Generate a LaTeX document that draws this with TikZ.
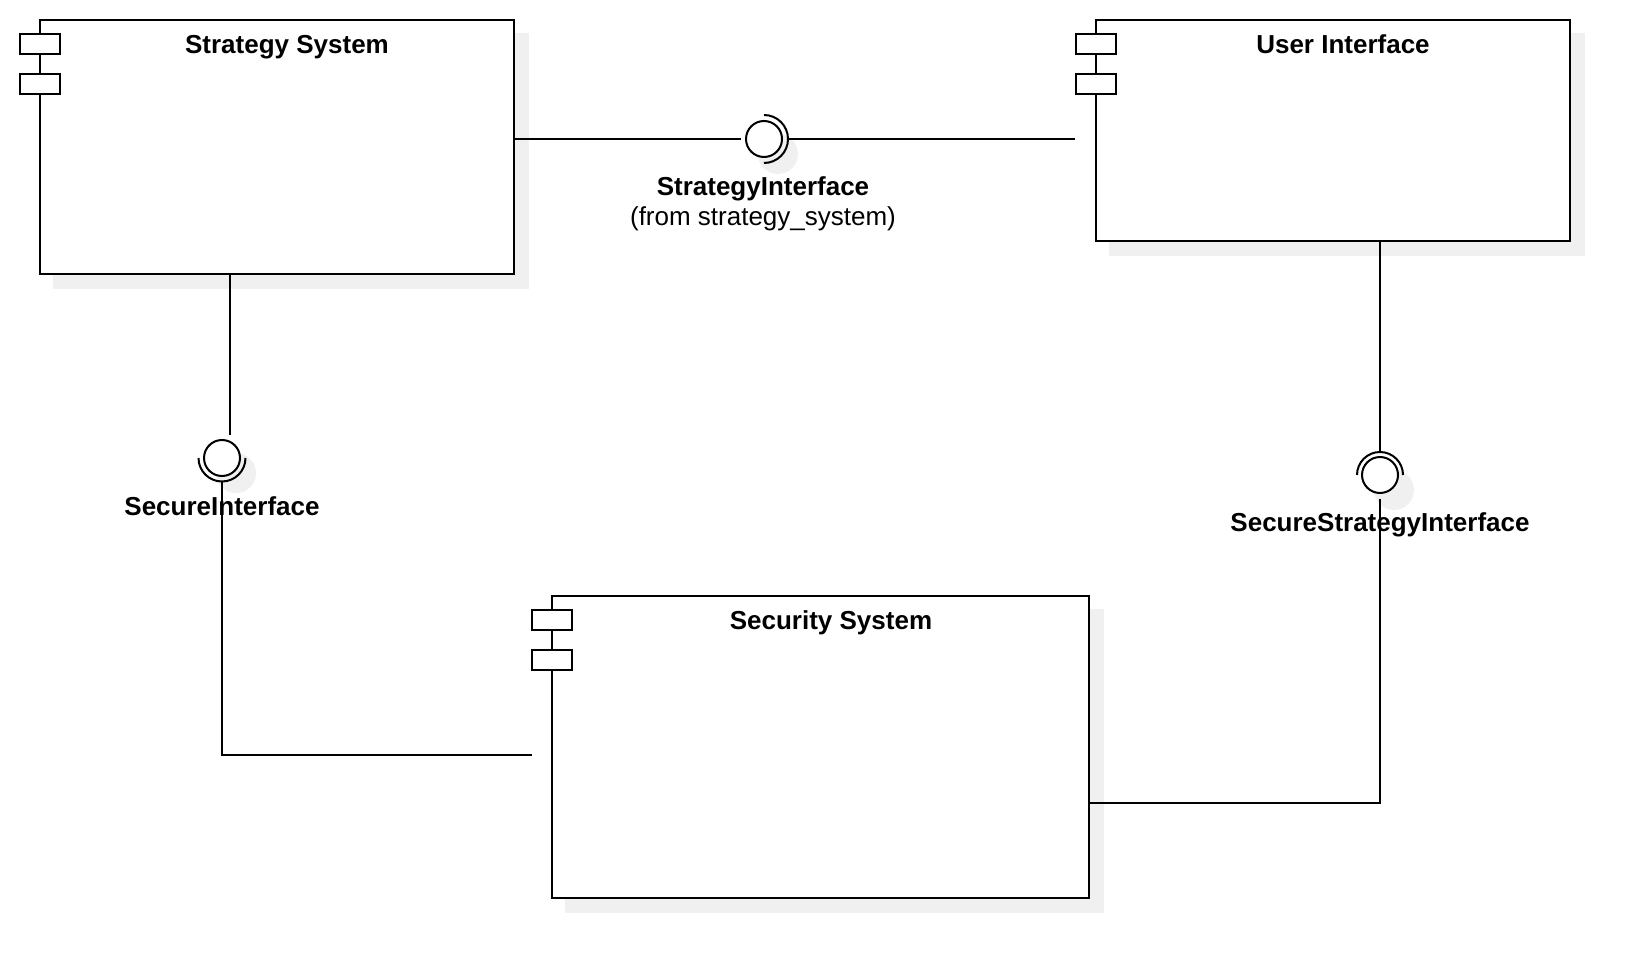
\documentclass[tikz,border=0pt]{standalone}
\usepackage{fontspec}
\setmainfont{Liberation Sans}
\pgfdeclarelayer{bg}
\pgfsetlayers{bg,main}
\definecolor{shadowgray}{HTML}{F0F0F0}
\begin{document}
\begin{tikzpicture}[x=0.5pt,y=-0.5pt,line width=1pt,
  txt/.style={inner sep=0pt,font=\fontsize{13}{15.6}\selectfont},
  bold/.style={txt,font=\fontsize{13}{15.6}\selectfont\bfseries},
  comp/.style={draw=black,fill=white,inner sep=0pt},
  port/.style={draw=black,fill=white,inner sep=0pt,minimum width=20pt,minimum height=10pt},
  ball/.style={circle,draw=black,fill=white,inner sep=0pt,minimum size=18pt}]
\useasboundingbox (0,0) rectangle (1652,978);

% component boxes
\node[comp,minimum width=237pt,minimum height=127pt] (strat) at (277,147) {};
\node[comp,minimum width=237pt,minimum height=110.5pt] (ui) at (1333,130.5) {};
\node[comp,minimum width=268.5pt,minimum height=151pt] (sec) at (820.5,747) {};

% component icons on the left edges
\node[port] (strat-p1) at (40,44) {};
\node[port] (strat-p2) at (40,84) {};
\node[port] (ui-p1) at (1096,44) {};
\node[port] (ui-p2) at (1096,84) {};
\node[port] (sec-p1) at (552,620) {};
\node[port] (sec-p2) at (552,660) {};

% titles
\node[bold,anchor=base] (strat-title) at (287,53.5) {Strategy System};
\node[bold,anchor=base] (ui-title) at (1343,53.5) {User Interface};
\node[bold,anchor=base] (sec-title) at (831,629.5) {Security System};

% provided interfaces (balls)
\node[ball] (si1) at (764,139) {};
\node[ball] (si2) at (222,458) {};
\node[ball] (si3) at (1380,475) {};

% required interfaces (sockets)
\draw ([shift={(0,-24)}]si1.center) arc[start angle=-90,end angle=90,radius=24];
\draw ([shift={(-23.5,0)}]si2.center) arc[start angle=180,end angle=0,radius=23.5];
\draw ([shift={(-23,0)}]si3.center) arc[start angle=180,end angle=360,radius=23];

% interface labels
\node[bold,anchor=base] (si1-name) at (763,196) {StrategyInterface};
\node[txt,anchor=base] (si1-from) at (763,225.5) {(from strategy\_system)};
\node[bold,anchor=base] (si2-name) at (222,515) {SecureInterface};
\node[bold,anchor=base] (si3-name) at (1380,531) {SecureStrategyInterface};

% connector end points
\coordinate (s2top) at (230,435);
\coordinate (secport) at (532,755);
\coordinate (c3) at (1380,803);

% connectors
\draw (strat.east |- si1.center) -- ([shift={(-4,0)}]si1.west);
\draw ([shift={(24,0)}]si1.center) -- (ui-p1.west |- si1.center);
\draw (s2top |- strat.south) -- (s2top);
\draw ([shift={(0,23.5)}]si2.center) |- (secport);
\draw (si3.center |- ui.south) -- ([shift={(0,-23)}]si3.center);
\draw ([shift={(0,5)}]si3.south) -- (c3) -- (sec.east |- c3);

% drop shadows
\begin{pgfonlayer}{bg}
  \fill[shadowgray] ([shift={(14,14)}]strat.north west) rectangle ([shift={(14,14)}]strat.south east);
  \fill[shadowgray] ([shift={(14,14)}]ui.north west) rectangle ([shift={(14,14)}]ui.south east);
  \fill[shadowgray] ([shift={(14,14)}]sec.north west) rectangle ([shift={(14,14)}]sec.south east);
  \fill[shadowgray] ([shift={(14,15)}]si1.center) circle[radius=20];
  \fill[shadowgray] ([shift={(14,15)}]si2.center) circle[radius=20];
  \fill[shadowgray] ([shift={(14,15)}]si3.center) circle[radius=20];
\end{pgfonlayer}
\end{tikzpicture}
\end{document}
